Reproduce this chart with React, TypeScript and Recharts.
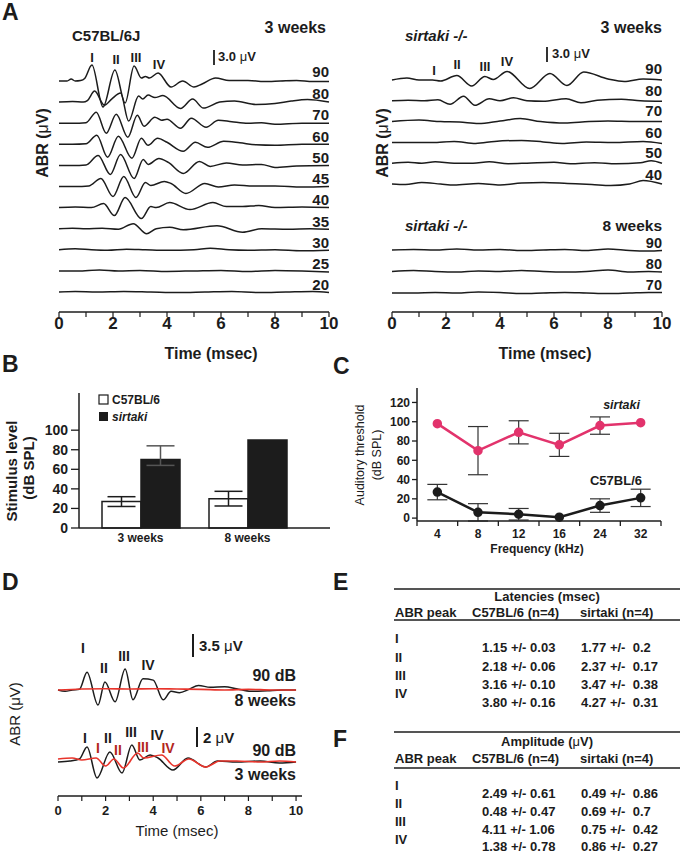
import { LineChart, Line, XAxis, YAxis, BarChart, Bar, ErrorBar } from "recharts";

const FONT = "'Liberation Sans', Arial, Helvetica, sans-serif";
const INK = "#1c1c1c";
const PINK = "#e2336c";
const RED = "#e8342b";
const DARK_RED = "#b3261e";

type Pt = [number, number];

// ---- A: ABR traces, time (ms) vs deviation (µV) ----
const msTicks = [0, 1, 2, 3, 4, 5, 6, 7, 8, 9, 10];

const c57Levels = ["90", "80", "70", "60", "50", "45", "40", "35", "30", "25", "20"];
const c57_90: Pt[] = [[0, 0], [0.3, 0], [0.45, 0.4], [0.6, 0], [0.8, 0.1], [0.95, 0.5], [1.22, 3.2], [1.63, -5.2], [2.07, 2.2], [2.45, -4.4], [2.78, 3.0], [3.05, 0.6], [3.2, 0.9], [3.35, 0.6], [3.67, 1.6], [4.15, -1.2], [4.58, 0], [5.0, -1.2], [5.3, -0.6], [5.8, 0.6], [6.3, 0.1], [7.0, 0.1], [7.6, -0.1], [8.2, 0], [8.8, 0.1], [9.4, -0.1], [10, -0.1]];
const c57_80: Pt[] = [[0, 0], [0.5, 0.1], [0.9, 0], [1.05, 0.3], [1.32, 2.2], [1.68, -0.6], [1.95, 0.6], [2.28, 1.8], [2.58, -3.8], [2.95, 1.2], [3.1, 0.6], [3.3, 1.4], [3.55, 0.9], [3.85, 1.3], [4.5, -1.3], [4.95, 0.6], [5.35, -1.2], [5.95, 0], [6.5, 0.2], [7.3, -0.5], [8, -0.3], [8.6, 0.2], [9.2, 0.5], [10, 0]];
const c57_70: Pt[] = [[0, 0], [0.5, 0], [1.0, 0.1], [1.38, 2.2], [1.75, -2.0], [2.12, 1.8], [2.55, -2.8], [2.9, 1.6], [3.15, -0.6], [3.55, 1.2], [3.8, 0.6], [4.0, 0.8], [4.5, -1.0], [4.9, 1.0], [5.45, -0.8], [5.9, 0.6], [6.4, 0.3], [7, 0], [7.5, 0.1], [8, -0.2], [9, 0], [10, 0]];
const c57_60: Pt[] = [[0, 0], [0.5, 0], [1.0, 0.1], [1.4, 1.8], [1.8, -2.6], [2.2, 1.6], [2.7, -2.8], [3.05, 1.2], [3.3, -0.2], [3.65, 1.2], [4.0, 0.4], [4.6, -1.4], [5.05, 0.4], [5.5, -0.6], [6.1, 0.6], [6.7, 0.3], [7.3, -0.1], [8, -0.2], [9, 0], [10, 0]];
const c57_50: Pt[] = [[0, 0], [0.5, 0], [1.0, 0.1], [1.45, 2.0], [1.9, -1.8], [2.28, 2.2], [2.78, -2.6], [3.12, 1.2], [3.3, 0.2], [3.7, 1.4], [4.05, 0.6], [4.6, -1.6], [5.2, 0.8], [5.6, -0.2], [6.2, 0.5], [6.8, 0.1], [7.5, 0.2], [8, -0.4], [8.8, -0.1], [10, 0]];
const c57_45: Pt[] = [[0, 0], [0.6, 0], [1.1, 0.1], [1.55, 1.6], [2.0, -2.0], [2.4, 2.0], [2.85, -2.2], [3.2, 0.8], [3.4, 0.2], [3.9, 1.0], [4.15, 0.6], [4.7, -1.4], [5.4, 0.6], [5.9, -0.1], [6.5, 0.3], [7.2, 0.1], [8, 0.1], [9, -0.1], [10, 0]];
const c57_40: Pt[] = [[0, 0], [0.6, 0.1], [1.2, 0], [1.65, 0.8], [2.05, -1.6], [2.45, 2.0], [3.05, -2.2], [3.4, 0.2], [3.6, 0], [4.1, 1.0], [4.85, -0.4], [5.7, 1.0], [6.2, 0.2], [6.8, 0.2], [7.4, 0.4], [8, 0], [9, 0.1], [10, 0]];
const c57_35: Pt[] = [[0, 0], [0.5, 0.1], [1.0, 0], [1.6, 0.1], [2.2, -0.1], [2.75, 1.0], [3.25, -1.0], [3.6, 0], [4.1, 0.3], [4.6, -0.2], [5.85, 0.6], [6.8, -0.7], [7.5, 0], [8.5, -0.1], [9.3, 0], [10, -0.1]];
const c57_30: Pt[] = [[0, 0], [0.6, 0.2], [1.2, 0], [1.8, -0.1], [2.5, 0.1], [3.2, 0], [4, -0.1], [5, 0], [5.6, 0.3], [6.3, 0], [7, -0.1], [8, 0], [9, -0.2], [10, -0.1]];
const c57_25: Pt[] = [[0, 0], [0.7, 0], [1.5, 0.2], [2.2, 0], [3, 0.1], [4, -0.1], [5, 0], [6, 0.1], [7, -0.1], [8, 0.1], [9, 0], [10, -0.2]];
const c57_20: Pt[] = [[0, 0], [0.6, 0.1], [1.4, 0], [2.4, 0.1], [3.4, 0], [4.4, -0.1], [5.4, 0], [6.4, 0.1], [7.4, -0.1], [8.4, 0], [9.4, 0.1], [10, -0.1]];
const c57Traces = [c57_90, c57_80, c57_70, c57_60, c57_50, c57_45, c57_40, c57_35, c57_30, c57_25, c57_20];

const sirt3Levels = ["90", "80", "70", "60", "50", "40"];
const s3_90: Pt[] = [[0, 0], [0.55, 0.4], [1.0, 0], [1.5, 0], [1.8, -0.2], [2.4, 0.9], [2.95, -1.2], [3.44, 0.7], [3.75, 0.1], [4.26, 1.7], [5.1, -1.7], [5.85, 1.3], [6.48, -1.1], [7.1, 1.6], [8.0, 0.2], [8.6, -0.3], [9.3, 0.2], [10, 0]];
const s3_80: Pt[] = [[0, 0], [0.6, 0.1], [1.2, 0], [1.7, 0.2], [2.15, -0.7], [2.65, 0.9], [3.07, -0.9], [3.6, 0.4], [4.0, 0], [4.5, 0.6], [5.0, 0], [5.6, -0.1], [6.45, 0.4], [7.0, -0.4], [7.6, 0.1], [8.5, 0.3], [9.2, 0], [10, -0.1]];
const s3_70: Pt[] = [[0, 0], [1.0, 0.3], [1.8, 0], [2.5, -0.1], [3.2, -0.4], [4.0, 0.1], [4.75, 0.6], [5.5, 0], [6.4, -0.3], [7.3, 0], [8, 0.1], [9, 0], [10, 0]];
const s3_60: Pt[] = [[0, 0], [0.8, 0], [1.5, 0], [2.3, 0.2], [3.1, -0.2], [3.8, 0.2], [4.8, 0.4], [5.6, 0.1], [6.3, -0.2], [7.2, 0.1], [8.2, 0], [9.3, 0.2], [10, -0.2]];
const s3_50: Pt[] = [[0, 0], [0.6, 0.2], [1.1, 0], [1.6, 0.3], [2.3, 0], [3, 0], [3.6, 0.3], [4.3, -0.1], [5, 0], [6, 0.2], [6.6, -0.1], [7.5, 0.1], [8.3, -0.1], [9.2, 0.1], [9.6, 0.5], [10, 0]];
const s3_40: Pt[] = [[0, 0], [0.5, -0.1], [1.1, 0.3], [1.8, 0], [2.3, -0.2], [3.2, 0.1], [4.0, -0.2], [4.8, 0.2], [5.6, 0.3], [6.5, 0.1], [7.4, -0.1], [8.1, -0.3], [8.8, 0], [9.3, 0.7], [10, 0]];
const sirt3Traces = [s3_90, s3_80, s3_70, s3_60, s3_50, s3_40];

const sirt8Levels = ["90", "80", "70"];
const s8_90: Pt[] = [[0, 0], [0.8, 0.1], [1.6, 0], [2.4, 0.2], [3.2, 0], [4, 0.1], [4.8, -0.1], [5.6, 0], [6.4, 0.1], [7.2, -0.1], [8, 0.2], [8.8, -0.1], [9.5, -0.2], [10, -0.1]];
const s8_80: Pt[] = [[0, 0], [0.8, 0.2], [1.6, 0], [2.4, -0.1], [3.2, 0.1], [4, 0], [4.8, 0.2], [5.6, 0], [6.4, -0.1], [7.2, 0], [8, 0.3], [8.8, -0.1], [9.5, 0], [10, -0.1]];
const s8_70: Pt[] = [[0, 0], [0.8, 0], [1.6, 0.1], [2.4, 0], [3.2, 0.2], [4, 0.1], [4.8, -0.1], [5.6, 0], [6.4, 0.1], [7.2, 0], [8, -0.1], [8.8, 0], [9.5, 0.1], [10, 0.1]];
const sirt8Traces = [s8_90, s8_80, s8_70];

// ---- B: stimulus level (dB SPL) ----
const ageGroups = ["3 weeks", "8 weeks"];
const c57Stim = [27, 30];
const c57StimErr = [5, 7.5];
const sirtStim = [70, 90];
const sirtStimErr: ([number, number] | null)[] = [[6, 14], null];

// ---- C: auditory threshold by frequency ----
const freqs = ["4", "8", "12", "16", "24", "32"];
const sirtThresh = [98, 70, 89, 76, 96, 99];
const sirtThreshErr = [null, 25, 12, 12, 9, null];
const c57Thresh = [27, 6, 4, 1, 13, 21];
const c57ThreshErr = [8, 9, 6, null, 7, 9];

// ---- D: 90 dB traces (µV) ----
const d8Black: Pt[] = [[0, 0], [0.3, -0.2], [0.6, 0], [0.9, 0.1], [1.22, 2.7], [1.68, -2.3], [1.97, 1.2], [2.4, -1.8], [2.82, 3.2], [3.15, -1.5], [3.57, 1.7], [4.0, 1.5], [4.42, -1.5], [4.75, -0.2], [5.1, -0.4], [5.5, 0.1], [5.9, 0.7], [6.4, 0.4], [7.0, 0.5], [7.5, 0.2], [8.1, -0.2], [8.8, -0.1], [9.4, 0], [10, 0]];
const d8Red: Pt[] = [[0, 0], [1, 0.15], [2, 0.2], [3, 0.15], [4, 0.2], [5, 0.15], [6, 0.1], [7, 0], [8, 0.1], [9, 0], [10, 0]];
const d3Black: Pt[] = [[0, 0], [0.5, 0.1], [0.9, 0.3], [1.22, 1.5], [1.64, -1.6], [2.18, 1.0], [2.69, -1.1], [3.1, 1.7], [3.44, 0.2], [3.87, 0.7], [4.2, 0.4], [4.83, -0.8], [5.46, 0.4], [6.2, -0.5], [6.7, 0.1], [7.5, 0], [8.5, 0.1], [9.3, -0.1], [10, 0]];
const d3Red: Pt[] = [[0, 0.3], [0.6, 0.4], [1.0, 0.2], [1.6, 0.4], [2.0, -0.4], [2.35, 0.3], [2.75, -0.6], [3.35, 0.9], [3.6, 0.4], [4.35, 0.7], [4.9, -0.4], [5.5, 0.3], [6.2, -0.5], [6.8, 0.1], [7.5, 0.1], [8.5, 0], [9.3, 0.1], [10, 0]];

// ---- E / F tables ----
const peakNames = ["I", "II", "III", "IV"];
const latC57 = ["1.15 +/- 0.03", "2.18 +/- 0.06", "3.16 +/- 0.10", "3.80 +/- 0.16"];
const latSirt = ["1.77 +/-  0.2", "2.37 +/-  0.17", "3.47 +/-  0.38", "4.27 +/-  0.31"];
const ampC57 = ["2.49 +/- 0.61", "0.48 +/- 0.47", "4.11 +/- 1.06", "1.38 +/- 0.78"];
const ampSirt = ["0.49 +/-  0.86", "0.69 +/-  0.7", "0.75 +/-  0.42", "0.86 +/-  0.27"];

// layout: stacking offsets (µV) for panel A, gains for panel D
const c57Bases = c57Traces.map((_, i) => 4 + (10 - i) * 4.22);
const sirt3Bases = sirt3Traces.map((_, i) => 46.4 - i * 4.16);
const sirt8Bases = sirt8Traces.map((_, i) => 12.4 - i * 4.3);
const D_TOP = 106;
const D_TOP_GAIN = 23 / 3.5;
const D_BOT = 34;
const D_BOT_GAIN = 10;

const shift = (pts: Pt[], base: number, gain = 1) => pts.map(([t, v]) => ({ t, y: base + v * gain }));

const stimData = ageGroups.map((g, i) => ({ group: g, c57: c57Stim[i], c57Err: c57StimErr[i], sirt: sirtStim[i], sirtErr: sirtStimErr[i] }));
const threshData = freqs.map((f, i) => ({ pos: i + 0.5, freq: f, sirt: sirtThresh[i], sirtErr: sirtThreshErr[i], c57: c57Thresh[i], c57Err: c57ThreshErr[i] }));

const axisLine = { stroke: INK, strokeWidth: 1.5 };
const tickFont = (size: number) => ({ fill: INK, fontSize: size, fontWeight: 700, fontFamily: FONT });

function T({ x, y, children, size = 15, anchor = "start", weight = 700, italic = false, fill = INK, rotate = false }: any) {
  return (
    <text
      x={x}
      y={y}
      fontSize={size}
      fontWeight={weight}
      fontStyle={italic ? "italic" : "normal"}
      textAnchor={anchor}
      dominantBaseline="central"
      fill={fill}
      fontFamily={FONT}
      style={{ whiteSpace: "pre" }}
      transform={rotate ? `rotate(-90 ${x} ${y})` : undefined}
    >
      {children}
    </text>
  );
}

function StackChart({ left, groups }: { left: number; groups: { traces: Pt[][]; bases: number[] }[] }) {
  return (
    <div style={{ position: "absolute", left, top: 0 }}>
      <LineChart width={340} height={340} margin={{ top: 17, right: 11, bottom: 0, left: 59 }}>
        <XAxis
          dataKey="t"
          type="number"
          domain={[0, 10]}
          ticks={msTicks}
          interval={0}
          tickFormatter={(v: number) => (v % 2 === 0 ? String(v) : "")}
          height={28}
          tickSize={5}
          tickMargin={0}
          axisLine={axisLine}
          tickLine={{ stroke: INK, strokeWidth: 1.2 }}
          tick={tickFont(17)}
        />
        <YAxis type="number" domain={[0, 59]} width={0} tick={false} tickLine={false} axisLine={axisLine} />
        {groups.flatMap((g, gi) =>
          g.traces.map((pts, i) => (
            <Line
              key={`${gi}-${i}`}
              data={shift(pts, g.bases[i])}
              dataKey="y"
              type="monotone"
              dot={false}
              stroke={INK}
              strokeWidth={1.5}
              isAnimationActive={false}
            />
          ))
        )}
      </LineChart>
    </div>
  );
}

function FreqTick({ x, y, payload }: any) {
  const v = payload.value as number;
  if (Number.isInteger(v)) {
    return <line x1={x} x2={x} y1={y - 8} y2={y - 3} stroke={INK} strokeWidth={1.3} />;
  }
  return (
    <text x={x} y={y} dy="0.71em" textAnchor="middle" {...tickFont(12)}>
      {freqs[Math.floor(v)]}
    </text>
  );
}

const mu = <tspan fontWeight={400}>μ</tspan>;

export default function App() {
  const c57LabelY = [71, 93, 114, 136, 157, 178, 199, 221, 242, 263, 284];
  const s3LabelY = [68, 90, 110, 132, 152, 174];
  const s8LabelY = [243, 264, 285];
  const latY = [647, 666, 684, 702];
  const ampY = [793, 811, 829, 846];
  const rowLatY = [638, 657, 675, 693];
  const rowAmpY = [785, 803, 821, 839];
  return (
    <div style={{ position: "absolute", left: 0, top: 0, width: 680, height: 853, background: "#fff", fontFamily: FONT }}>
      {/* A */}
      <StackChart left={0} groups={[{ traces: c57Traces, bases: c57Bases }]} />
      <StackChart
        left={333}
        groups={[
          { traces: sirt3Traces, bases: sirt3Bases },
          { traces: sirt8Traces, bases: sirt8Bases },
        ]}
      />

      {/* B */}
      <div style={{ position: "absolute", left: 0, top: 380 }}>
        <BarChart width={340} height={168} data={stimData} margin={{ top: 13, right: 10, bottom: 0, left: 0 }} barGap={0} barSize={39}>
          <XAxis
            dataKey="group"
            padding={{ left: 8, right: 29 }}
            height={20}
            tickLine={false}
            tickSize={0}
            tickMargin={5}
            axisLine={axisLine}
            tick={tickFont(12)}
          />
          <YAxis
            type="number"
            domain={[0, 138]}
            ticks={[0, 20, 40, 60, 80, 100]}
            interval={0}
            width={79}
            tickSize={8}
            tickMargin={3}
            axisLine={axisLine}
            tickLine={{ stroke: INK, strokeWidth: 1.3 }}
            tick={tickFont(14)}
          />
          <Bar dataKey="c57" fill="#fff" stroke={INK} strokeWidth={1.5} isAnimationActive={false}>
            <ErrorBar dataKey="c57Err" width={14} stroke={INK} strokeWidth={1.5} />
          </Bar>
          <Bar dataKey="sirt" fill={INK} stroke={INK} strokeWidth={1.5} isAnimationActive={false}>
            <ErrorBar dataKey="sirtErr" width={14} stroke="#555" strokeWidth={1.5} />
          </Bar>
        </BarChart>
      </div>

      {/* C */}
      <div style={{ position: "absolute", left: 340, top: 380 }}>
        <LineChart width={340} height={164} data={threshData} margin={{ top: 8, right: 19, bottom: 0, left: 0 }}>
          <XAxis
            dataKey="pos"
            type="number"
            domain={[0, 6]}
            ticks={[0, 0.5, 1, 1.5, 2, 2.5, 3, 3.5, 4, 4.5, 5, 5.5, 6]}
            interval={0}
            height={23}
            tickSize={5}
            tickMargin={3}
            tickLine={false}
            axisLine={axisLine}
            tick={<FreqTick />}
          />
          <YAxis
            type="number"
            domain={[0, 135]}
            ticks={[0, 20, 40, 60, 80, 100, 120]}
            interval={0}
            width={77}
            tickSize={5}
            tickMargin={2}
            axisLine={axisLine}
            tickLine={{ stroke: INK, strokeWidth: 1.3 }}
            tick={tickFont(12)}
          />
          <Line dataKey="sirt" type="linear" stroke={PINK} strokeWidth={2.5} dot={{ r: 3.5, fill: PINK, stroke: PINK }} isAnimationActive={false}>
            <ErrorBar dataKey="sirtErr" width={10} stroke="#333" strokeWidth={1.2} />
          </Line>
          <Line dataKey="c57" type="linear" stroke={INK} strokeWidth={2.5} dot={{ r: 3.5, fill: INK, stroke: INK }} isAnimationActive={false}>
            <ErrorBar dataKey="c57Err" width={10} stroke="#333" strokeWidth={1.2} />
          </Line>
        </LineChart>
      </div>

      {/* D */}
      <div style={{ position: "absolute", left: 0, top: 600 }}>
        <LineChart width={320} height={230} margin={{ top: 20, right: 18, bottom: 0, left: 58 }}>
          <XAxis
            dataKey="t"
            type="number"
            domain={[0, 10.25]}
            ticks={msTicks}
            interval={0}
            tickFormatter={(v: number) => (v % 2 === 0 ? String(v) : "")}
            height={34}
            tickSize={5}
            tickMargin={5}
            axisLine={axisLine}
            tickLine={{ stroke: INK, strokeWidth: 1.2 }}
            tick={tickFont(13)}
          />
          <YAxis type="number" domain={[0, 176]} width={0} tick={false} tickLine={false} axisLine={axisLine} />
          <Line data={shift(d8Black, D_TOP, D_TOP_GAIN)} dataKey="y" type="monotone" dot={false} stroke={INK} strokeWidth={1.5} isAnimationActive={false} />
          <Line data={shift(d8Red, D_TOP, D_TOP_GAIN)} dataKey="y" type="monotone" dot={false} stroke={RED} strokeWidth={1.6} isAnimationActive={false} />
          <Line data={shift(d3Black, D_BOT, D_BOT_GAIN)} dataKey="y" type="monotone" dot={false} stroke={INK} strokeWidth={1.5} isAnimationActive={false} />
          <Line data={shift(d3Red, D_BOT, D_BOT_GAIN)} dataKey="y" type="monotone" dot={false} stroke={RED} strokeWidth={1.6} isAnimationActive={false} />
        </LineChart>
      </div>

      {/* annotations */}
      <svg width={680} height={853} style={{ position: "absolute", left: 0, top: 0, pointerEvents: "none" }}>
        {/* A left */}
        <T x={2} y={12} size={23}>A</T>
        <T x={72} y={35}>C57BL/6J</T>
        <T x={326} y={27} size={16} anchor="end">3 weeks</T>
        <T x={92} y={57} size={13} anchor="middle">I</T>
        <T x={116} y={59} size={13} anchor="middle">II</T>
        <T x={136} y={57} size={13} anchor="middle">III</T>
        <T x={159} y={64} size={13} anchor="middle">IV</T>
        <line x1={214} x2={214} y1={50} y2={65} stroke={INK} strokeWidth={1.8} />
        <T x={218} y={56} size={13}>3.0 {mu}V</T>
        {c57Levels.map((l, i) => (
          <T key={l} x={329} y={c57LabelY[i]} anchor="end">{l}</T>
        ))}
        <T x={42} y={143} size={16} rotate anchor="middle">ABR ({mu}V)</T>
        <T x={211} y={353} size={16} anchor="middle">Time (msec)</T>

        {/* A right */}
        <T x={405} y={35} italic>sirtaki -/-</T>
        <T x={662} y={27} size={16} anchor="end">3 weeks</T>
        <T x={434} y={70} size={13} anchor="middle">I</T>
        <T x={457} y={64} size={13} anchor="middle">II</T>
        <T x={485} y={66} size={13} anchor="middle">III</T>
        <T x={507} y={61} size={13} anchor="middle">IV</T>
        <line x1={547} x2={547} y1={47} y2={62} stroke={INK} strokeWidth={1.8} />
        <T x={552} y={53} size={13}>3.0 {mu}V</T>
        {sirt3Levels.map((l, i) => (
          <T key={"s3" + l} x={662} y={s3LabelY[i]} anchor="end">{l}</T>
        ))}
        <T x={405} y={225} italic>sirtaki -/-</T>
        <T x={662} y={225} size={15.5} anchor="end">8 weeks</T>
        {sirt8Levels.map((l, i) => (
          <T key={"s8" + l} x={662} y={s8LabelY[i]} anchor="end" size={14.5}>{l}</T>
        ))}
        <T x={382} y={143} size={16} rotate anchor="middle">ABR ({mu}V)</T>
        <T x={545} y={353} size={16} anchor="middle">Time (msec)</T>

        {/* B */}
        <T x={2} y={364} size={23}>B</T>
        <rect x={99} y={395} width={9} height={9} fill="#fff" stroke={INK} strokeWidth={1.2} />
        <T x={112} y={399.5} size={12}>C57BL/6</T>
        <rect x={99} y={412} width={9} height={9} fill={INK} />
        <T x={112} y={416.5} size={12} italic>sirtaki</T>
        <T x={11} y={471} size={15} rotate anchor="middle">Stimulus level</T>
        <T x={28} y={468} size={15} rotate anchor="middle">(dB SPL)</T>

        {/* C */}
        <T x={333} y={366} size={23}>C</T>
        <T x={360} y={455} size={12.5} weight={400} rotate anchor="middle">Auditory threshold</T>
        <T x={377} y={455} size={12.5} weight={400} rotate anchor="middle">(dB SPL)</T>
        <T x={640} y={405} size={12.5} italic anchor="end">sirtaki</T>
        <T x={642} y={480} size={13} anchor="end">C57BL/6</T>
        <T x={537} y={549} size={12} anchor="middle">Frequency (kHz)</T>

        {/* D */}
        <T x={2} y={582} size={23}>D</T>
        <T x={14} y={714} size={15} weight={400} rotate anchor="middle">ABR ({mu}V)</T>
        <T x={177} y={830} size={15} weight={400} anchor="middle">Time (msec)</T>
        <T x={296} y={675} size={16} anchor="end">90 dB</T>
        <T x={296} y={700} size={16} anchor="end">8 weeks</T>
        <T x={296} y={750} size={16} anchor="end">90 dB</T>
        <T x={296} y={774} size={16} anchor="end">3 weeks</T>
        <T x={83} y={648} size={14} anchor="middle">I</T>
        <T x={104} y={668} size={14} anchor="middle">II</T>
        <T x={124} y={656} size={14} anchor="middle">III</T>
        <T x={148} y={665} size={14} anchor="middle">IV</T>
        <T x={85} y={738} size={14} anchor="middle">I</T>
        <T x={108} y={738} size={14} anchor="middle">II</T>
        <T x={131} y={732} size={14} anchor="middle">III</T>
        <T x={157} y={735} size={14} anchor="middle">IV</T>
        <T x={98} y={748} size={14} anchor="middle" fill={DARK_RED}>I</T>
        <T x={118} y={750} size={14} anchor="middle" fill={DARK_RED}>II</T>
        <T x={143} y={747} size={14} anchor="middle" fill={DARK_RED}>III</T>
        <T x={168} y={748} size={14} anchor="middle" fill={DARK_RED}>IV</T>
        <line x1={193} x2={193} y1={634} y2={657} stroke={INK} strokeWidth={2} />
        <T x={199} y={645} size={15}>3.5 {mu}V</T>
        <line x1={197} x2={197} y1={727} y2={747} stroke={INK} strokeWidth={2} />
        <T x={203} y={737} size={15}>2 {mu}V</T>

        {/* E */}
        <T x={333} y={582} size={23}>E</T>
        <line x1={394} x2={680} y1={589} y2={589} stroke={INK} strokeWidth={1.3} />
        <T x={547} y={596} size={13} anchor="middle">Latencies (msec)</T>
        <T x={395} y={612} size={13}>ABR peak</T>
        <T x={472} y={612} size={13}>C57BL/6 (n=4)</T>
        <T x={580} y={612} size={13}>sirtaki (n=4)</T>
        <line x1={394} x2={680} y1={620} y2={620} stroke={INK} strokeWidth={1.3} />
        {peakNames.map((p, i) => (
          <T key={"le" + p} x={395} y={rowLatY[i]} size={13}>{p}</T>
        ))}
        {latC57.map((s, i) => (
          <T key={"lc" + i} x={482} y={latY[i]} size={13}>{s}</T>
        ))}
        {latSirt.map((s, i) => (
          <T key={"ls" + i} x={581} y={latY[i]} size={13}>{s}</T>
        ))}

        {/* F */}
        <T x={333} y={739} size={23}>F</T>
        <line x1={394} x2={680} y1={732} y2={732} stroke={INK} strokeWidth={1.3} />
        <T x={547} y={741} size={13} anchor="middle">Amplitude ({mu}V)</T>
        <T x={395} y={758} size={13}>ABR peak</T>
        <T x={472} y={758} size={13}>C57BL/6 (n=4)</T>
        <T x={580} y={758} size={13}>sirtaki (n=4)</T>
        <line x1={394} x2={680} y1={768} y2={768} stroke={INK} strokeWidth={1.3} />
        {peakNames.map((p, i) => (
          <T key={"ae" + p} x={395} y={rowAmpY[i]} size={13}>{p}</T>
        ))}
        {ampC57.map((s, i) => (
          <T key={"ac" + i} x={482} y={ampY[i]} size={13}>{s}</T>
        ))}
        {ampSirt.map((s, i) => (
          <T key={"as" + i} x={581} y={ampY[i]} size={13}>{s}</T>
        ))}
      </svg>
    </div>
  );
}
